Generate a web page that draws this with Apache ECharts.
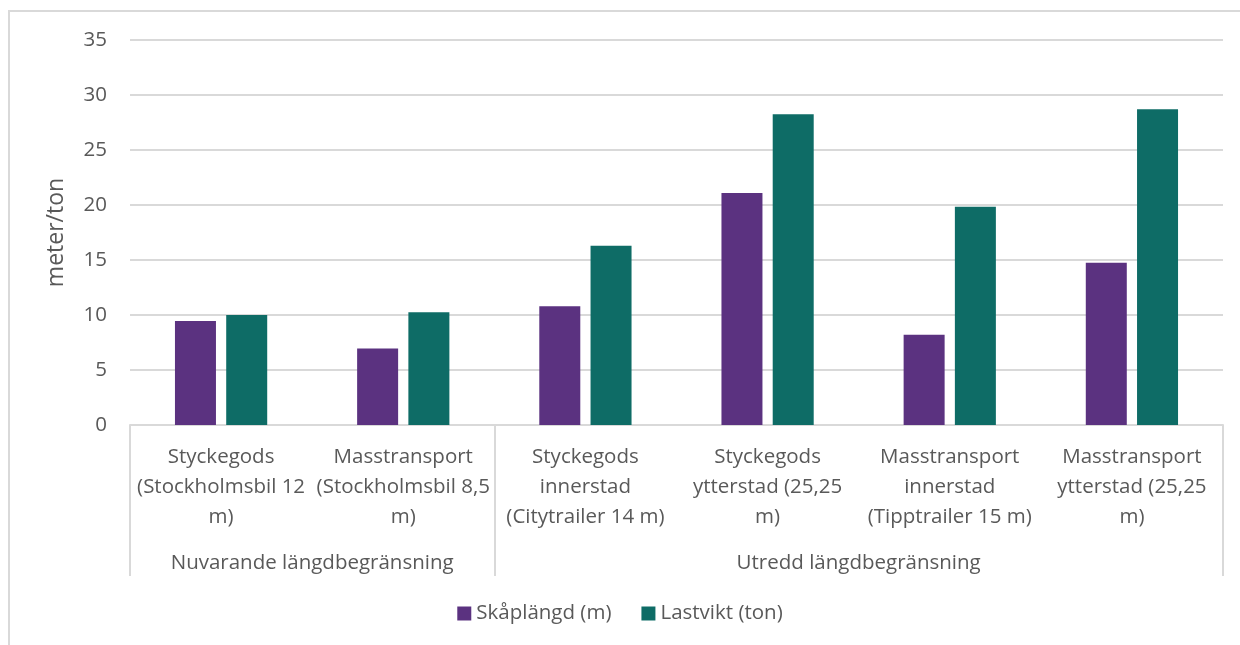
<!DOCTYPE html>
<html>
<head>
<meta charset="utf-8">
<script src="https://cdn.jsdelivr.net/npm/echarts@6/dist/echarts.min.js"></script>
<style>
  html, body { margin: 0; padding: 0; background: #fff; }
  #wrap { position: relative; width: 1240px; height: 645px; overflow: hidden; }
  #frame { position: absolute; left: 8px; top: 10px; width: 1300px; height: 700px; border-top: 2px solid #D9D9D9; border-left: 2px solid #D9D9D9; }
  #chart { position: absolute; left: 0; top: 0; width: 1240px; height: 645px; }
</style>
</head>
<body>
<div id="wrap">
  <div id="frame"></div>
  <div id="chart"></div>
</div>
<script>
// categories (wrapped the way the original wraps them)
const categories = [
  "Styckegods\n(Stockholmsbil 12\nm)",
  "Masstransport\n(Stockholmsbil 8,5\nm)",
  "Styckegods\ninnerstad\n(Citytrailer 14 m)",
  "Styckegods\nytterstad (25,25\nm)",
  "Masstransport\ninnerstad\n(Tipptrailer 15 m)",
  "Masstransport\nytterstad (25,25\nm)"
];
// group labels sit on category boundaries 0..6
const groupSlots = ["", "Nuvarande längdbegränsning", "", "", "Utredd längdbegränsning", "", ""];
const groupEdges = [0, 2, 6];

const skaplangd = [9.45, 6.95, 10.8, 21.1, 8.2, 14.75];
const lastvikt = [10.0, 10.25, 16.3, 28.25, 19.85, 28.7];

const yTicks = { min: 0, max: 35, interval: 5 };

const FONT = "'Open Sans', 'Noto Sans', sans-serif";
const TXT = "#595959";
const FS = 20.5;

const chart = echarts.init(document.getElementById("chart"));
chart.setOption({
  animation: false,
  textStyle: { fontFamily: FONT },
  grid: { left: 130, right: 17, top: 40, bottom: 220, containLabel: false },
  legend: {
    bottom: 16,
    left: "center",
    itemWidth: 14,
    itemHeight: 14,
    itemGap: 30,
    icon: "rect",
    textStyle: { fontFamily: FONT, fontSize: FS, color: TXT, padding: [0, 0, 0, 0] },
    data: ["Skåplängd (m)", "Lastvikt (ton)"]
  },
  xAxis: [
    {
      type: "category",
      data: categories,
      axisLine: { lineStyle: { color: "#D9D9D9", width: 2 } },
      axisTick: { show: false },
      axisLabel: {
        interval: 0,
        margin: 17,
        fontSize: FS,
        lineHeight: 30,
        color: TXT,
        fontFamily: FONT,
        align: "center"
      }
    },
    {
      type: "category",
      position: "bottom",
      boundaryGap: false,
      data: groupSlots,
      axisLine: { show: false },
      axisTick: {
        show: true,
        length: 151,
        interval: (i) => groupEdges.includes(i),
        lineStyle: { color: "#D9D9D9", width: 2 }
      },
      axisLabel: {
        interval: 0,
        margin: 128,
        fontSize: FS,
        color: TXT,
        fontFamily: FONT
      }
    }
  ],
  yAxis: {
    type: "value",
    min: yTicks.min,
    max: yTicks.max,
    interval: yTicks.interval,
    name: "meter/ton",
    nameLocation: "middle",
    nameGap: 62,
    nameTextStyle: { fontSize: 23, color: TXT, fontFamily: FONT },
    axisLine: { show: false },
    axisTick: { show: false },
    axisLabel: { fontSize: FS, color: TXT, margin: 23, fontFamily: FONT },
    splitLine: { lineStyle: { color: "#D9D9D9", width: 2 } }
  },
  series: [
    {
      name: "Skåplängd (m)",
      type: "bar",
      data: skaplangd,
      barWidth: 41,
      barGap: "25%",
      itemStyle: { color: "#5B3280" }
    },
    {
      name: "Lastvikt (ton)",
      type: "bar",
      data: lastvikt,
      barWidth: 41,
      barGap: "25%",
      itemStyle: { color: "#0E6C66" }
    }
  ]
});
</script>
</body>
</html>
